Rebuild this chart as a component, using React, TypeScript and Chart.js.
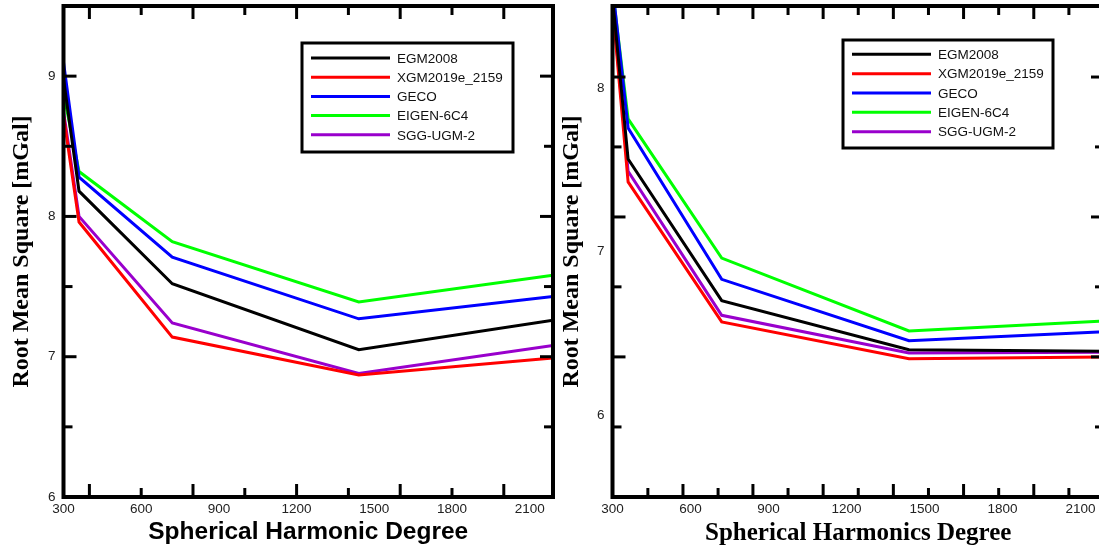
import React, { useEffect, useRef } from 'react';
import { Chart, registerables } from 'chart.js';

Chart.register(...registerables);

// ---------- data ----------
const DEGREES = [300, 360, 720, 1440, 2190];
const SERIES_NAMES = ['EGM2008', 'XGM2019e_2159', 'GECO', 'EIGEN-6C4', 'SGG-UGM-2'];
const SERIES_COLORS = ['#000000', '#ff0000', '#0000ff', '#00ff00', '#9900cc'];

// left panel
const LEFT_EGM2008 = [8.98, 8.18, 7.52, 7.05, 7.26];
const LEFT_XGM2019 = [8.72, 7.96, 7.14, 6.87, 6.99];
const LEFT_GECO = [9.1, 8.28, 7.71, 7.27, 7.43];
const LEFT_EIGEN = [8.88, 8.32, 7.82, 7.39, 7.58];
const LEFT_SGG = [8.75, 8.0, 7.24, 6.88, 7.08];

// right panel
const RIGHT_EGM2008 = [8.55, 7.565, 6.7, 6.4, 6.39];
const RIGHT_XGM2019 = [8.5, 7.425, 6.57, 6.345, 6.355];
const RIGHT_GECO = [8.62, 7.755, 6.83, 6.455, 6.51];
const RIGHT_EIGEN = [8.6, 7.81, 6.96, 6.515, 6.575];
const RIGHT_SGG = [8.52, 7.49, 6.61, 6.38, 6.385];

// tick labels and tick marks
const X_LABELS = [300, 600, 900, 1200, 1500, 1800, 2100];
const LEFT_Y_LABELS = [6, 7, 8, 9];
const RIGHT_Y_LABELS = [6, 7, 8];

const LEFT_X_MARKS = [400, 600, 800, 1000, 1200, 1400, 1600, 1800, 2000];
const LEFT_X_MAJOR = [400, 800, 1200, 1600, 2000];
const LEFT_Y_MARKS = [6.5, 7, 7.5, 8, 8.5, 9];
const LEFT_Y_MAJOR = [7, 8, 9];

const RIGHT_X_MARKS = [436, 571, 706, 840, 975, 1110, 1245, 1380, 1515, 1650, 1785, 1920, 2055];
const RIGHT_X_MAJOR = [571, 840, 1110, 1380, 1650, 1920];
const RIGHT_Y_MARKS = [8.066, 7.639, 7.211, 6.784, 6.356, 5.928];
const RIGHT_Y_MAJOR = [8.066, 7.211, 6.356];

// ---------- plugins ----------
const framePlugin = {
  id: 'frame',
  afterDatasetsDraw(chart: any, _args: any, opts: any) {
    const { ctx, chartArea } = chart;
    const { left, right, top, bottom } = chartArea;
    const xs = chart.scales.x;
    const ys = chart.scales.y;
    ctx.save();
    ctx.strokeStyle = '#000';
    ctx.lineCap = 'butt';
    ctx.lineWidth = 3;
    const seg = (x1: number, y1: number, x2: number, y2: number) => {
      ctx.beginPath();
      ctx.moveTo(x1, y1);
      ctx.lineTo(x2, y2);
      ctx.stroke();
    };
    for (const v of opts.xMarks) {
      const px = xs.getPixelForValue(v);
      const len = opts.xMajor.includes(v) ? 13 : 9;
      seg(px, bottom, px, bottom - len);
      seg(px, top, px, top + len);
    }
    for (const v of opts.yMarks) {
      const py = ys.getPixelForValue(v);
      const len = opts.yMajor.includes(v) ? 13 : 9;
      seg(left, py, left + len, py);
      seg(right, py, right - len, py);
    }
    ctx.lineWidth = 4;
    ctx.strokeRect(left, top, right - left, bottom - top);
    ctx.restore();
  },
};

const boxLegendPlugin = {
  id: 'boxLegend',
  afterDraw(chart: any, _args: any, opts: any) {
    const { ctx } = chart;
    const b = opts.box;
    ctx.save();
    ctx.fillStyle = '#fff';
    ctx.fillRect(b.x, b.y, b.w, b.h);
    ctx.strokeStyle = '#000';
    ctx.lineWidth = 3;
    ctx.strokeRect(b.x, b.y, b.w, b.h);
    ctx.font = '13.5px "Liberation Sans", Arial, sans-serif';
    ctx.textBaseline = 'middle';
    ctx.textAlign = 'left';
    chart.data.datasets.forEach((ds: any, i: number) => {
      const y = opts.rowY + i * opts.rowStep;
      ctx.strokeStyle = ds.borderColor;
      ctx.lineWidth = 3;
      ctx.beginPath();
      ctx.moveTo(opts.lineX1, y);
      ctx.lineTo(opts.lineX2, y);
      ctx.stroke();
      ctx.fillStyle = '#111';
      ctx.fillText(ds.label, opts.textX, y + 1);
    });
    ctx.restore();
  },
};

function zeroPad(s: any) {
  s.paddingTop = 0;
  s.paddingBottom = 0;
  s.paddingLeft = 0;
  s.paddingRight = 0;
}

function buildConfig(p: any) {
  const datasets = p.series.map((vals: number[], i: number) => ({
    label: SERIES_NAMES[i],
    data: DEGREES.map((d, j) => ({ x: d, y: vals[j] })),
    borderColor: SERIES_COLORS[i],
    backgroundColor: SERIES_COLORS[i],
    borderWidth: 3,
    pointRadius: 0,
    tension: 0,
    fill: false,
  }));
  return {
    type: 'line',
    data: { datasets },
    options: {
      responsive: false,
      animation: false,
      events: [],
      layout: { padding: { left: 0, right: p.padRight, top: 6, bottom: 0 } },
      plugins: {
        legend: { display: false },
        tooltip: { enabled: false },
        frame: { xMarks: p.xMarks, xMajor: p.xMajor, yMarks: p.yMarks, yMajor: p.yMajor },
        boxLegend: p.legend,
      },
      scales: {
        x: {
          type: 'linear',
          min: 300,
          max: 2190,
          afterBuildTicks: (s: any) => {
            s.ticks = X_LABELS.map((v) => ({ value: v }));
          },
          afterFit: (s: any) => {
            s.height = 53;
            zeroPad(s);
          },
          grid: { display: false, drawTicks: false },
          border: { display: false },
          ticks: {
            autoSkip: false,
            maxRotation: 0,
            padding: 4,
            color: '#222',
            callback: (v: any) => String(v),
            font: { family: '"Liberation Sans", Arial, sans-serif', size: 13.5 },
          },
          title: {
            display: true,
            text: p.xTitle,
            color: '#000',
            align: 'center',
            font: { family: p.xTitleFamily, size: p.xTitleSize, weight: 'bold' },
            padding: { top: 0, bottom: p.xTitlePad },
          },
        },
        y: {
          type: 'linear',
          min: p.yMin,
          max: p.yMax,
          afterBuildTicks: (s: any) => {
            s.ticks = p.yLabels.map((v: number) => ({ value: v }));
          },
          afterFit: (s: any) => {
            s.width = p.yWidth;
            zeroPad(s);
          },
          grid: { display: false, drawTicks: false },
          border: { display: false },
          ticks: {
            padding: 8,
            color: '#222',
            callback: (v: any) => String(v),
            font: { family: '"Liberation Sans", Arial, sans-serif', size: 13.5 },
          },
          title: {
            display: true,
            text: 'Root Mean Square [mGal]',
            color: '#000',
            font: { family: '"Liberation Serif", "Times New Roman", serif', size: 24, weight: 'bold' },
            padding: { top: p.yTitlePad, bottom: 0 },
          },
        },
      },
    },
    plugins: [framePlugin, boxLegendPlugin],
  };
}

const LEFT_PANEL = {
  series: [LEFT_EGM2008, LEFT_XGM2019, LEFT_GECO, LEFT_EIGEN, LEFT_SGG],
  yMin: 6,
  yMax: 9.5,
  yLabels: LEFT_Y_LABELS,
  xMarks: LEFT_X_MARKS,
  xMajor: LEFT_X_MAJOR,
  yMarks: LEFT_Y_MARKS,
  yMajor: LEFT_Y_MAJOR,
  padRight: 3,
  yWidth: 63.5,
  yTitlePad: 7.5,
  xTitle: 'Spherical Harmonic Degree',
  xTitleFamily: '"Liberation Sans", Arial, sans-serif',
  xTitleSize: 24.5,
  xTitlePad: 3,
  legend: {
    box: { x: 302, y: 43, w: 211, h: 109 },
    lineX1: 311,
    lineX2: 390,
    textX: 397,
    rowY: 58,
    rowStep: 19.2,
  },
};

const RIGHT_PANEL = {
  series: [RIGHT_EGM2008, RIGHT_XGM2019, RIGHT_GECO, RIGHT_EIGEN, RIGHT_SGG],
  yMin: 5.5,
  yMax: 8.5,
  yLabels: RIGHT_Y_LABELS,
  xMarks: RIGHT_X_MARKS,
  xMajor: RIGHT_X_MAJOR,
  yMarks: RIGHT_Y_MARKS,
  yMajor: RIGHT_Y_MAJOR,
  padRight: 4,
  yWidth: 56.5,
  yTitlePad: 1.6,
  xTitle: 'Spherical Harmonics Degree',
  xTitleFamily: '"Liberation Serif", "Times New Roman", serif',
  xTitleSize: 25,
  xTitlePad: 1.5,
  legend: {
    box: { x: 287, y: 40, w: 210, h: 108 },
    lineX1: 296,
    lineX2: 375,
    textX: 382,
    rowY: 54.3,
    rowStep: 19.35,
  },
};

function Panel({ panel, left, width }: { panel: any; left: number; width: number }) {
  const ref = useRef<HTMLCanvasElement | null>(null);
  useEffect(() => {
    if (!ref.current) return;
    const chart = new Chart(ref.current, buildConfig(panel) as any);
    return () => chart.destroy();
  }, [panel]);
  return (
    <canvas
      ref={ref}
      width={width}
      height={550}
      style={{ position: 'absolute', left, top: 0, width, height: 550, display: 'block' }}
    />
  );
}

export default function App() {
  useEffect(() => {
    document.body.style.margin = '0';
    document.body.style.overflow = 'hidden';
  }, []);
  return (
    <div style={{ position: 'relative', width: 1099, height: 550, overflow: 'hidden', background: '#fff' }}>
      <Panel panel={LEFT_PANEL} left={0} width={556} />
      <Panel panel={RIGHT_PANEL} left={556} width={552} />
    </div>
  );
}
